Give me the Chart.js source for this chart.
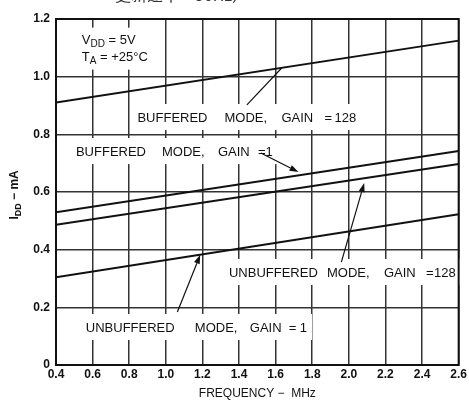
<!DOCTYPE html>
<html>
<head>
<meta charset="utf-8">
<script src="https://cdn.jsdelivr.net/npm/chart.js@4.4.1/dist/chart.umd.min.js"></script>
<style>
html,body{margin:0;padding:0;background:#fff;}
#wrap{width:469px;height:402px;position:relative;}
</style>
</head>
<body>
<div id="wrap"><canvas id="c" width="469" height="402"></canvas></div>
<script>
// ---- data ----
const frequencyMHz = [0.4, 2.6];
const bufferedGain128 = [0.91, 1.125];
const bufferedGain1 = [0.53, 0.742];
const unbufferedGain128 = [0.486, 0.697];
const unbufferedGain1 = [0.304, 0.523];
const xTickLabels = ['0.4','0.6','0.8','1.0','1.2','1.4','1.6','1.8','2.0','2.2','2.4','2.6'];
const yTickLabels = ['0','0.2','0.4','0.6','0.8','1.0','1.2'];

// annotation labels: [x, y] data position of left/center, segments [text, px offset]
const curveLabels = [
  {x:0.845, y:0.860, segs:[['BUFFERED',0],['MODE,',87],['GAIN',144],['=',187],['128',197]]},
  {x:0.509, y:0.742, segs:[['BUFFERED',0],['MODE,',86],['GAIN',142],['=1',182]]},
  {x:1.345, y:0.3226, segs:[['UNBUFFERED',0],['MODE,',98],['GAIN',155],['=',197],['128',205]]},
  {x:0.563, y:0.132, segs:[['UNBUFFERED',0],['MODE,',109],['GAIN',164],['=',203],['1',214]]}
];
const leaders = [
  {from:[1.443,0.902], to:[1.633,1.030], arrow:false},
  {from:[1.519,0.735], to:[1.725,0.669], arrow:true},
  {from:[1.959,0.357], to:[2.084,0.631], arrow:true},
  {from:[1.063,0.184], to:[1.188,0.382], arrow:true}
];

function pts(ys){ return frequencyMHz.map((f,i)=>({x:f,y:ys[i]})); }

const FONT = '"Liberation Sans", Arial, sans-serif';

function subText(ctx, x, y, main, sub, rest, size, subSize, weight){
  ctx.font = weight + ' ' + size + 'px ' + FONT;
  ctx.fillText(main, x, y);
  let w = ctx.measureText(main).width;
  ctx.font = weight + ' ' + subSize + 'px ' + FONT;
  ctx.fillText(sub, x + w, y + size*0.3);
  let w2 = ctx.measureText(sub).width;
  ctx.font = weight + ' ' + size + 'px ' + FONT;
  ctx.fillText(rest, x + w + w2, y);
  return w + w2 + ctx.measureText(rest).width;
}

const decor = {
  id:'decor',
  beforeDatasetsDraw(chart){
    const {ctx, chartArea:a, scales:{x,y}} = chart;
    ctx.save();
    ctx.font = '13px ' + FONT;
    ctx.textBaseline = 'middle';
    ctx.fillStyle = '#111';
    curveLabels.forEach(l=>{
      const px = x.getPixelForValue(l.x), py = y.getPixelForValue(l.y);
      const last = l.segs[l.segs.length-1];
      const w = last[1] + ctx.measureText(last[0]).width;
      ctx.fillStyle = '#fff';
      ctx.fillRect(px-5, py-13, w+10, 26);
      ctx.fillStyle = '#111';
      l.segs.forEach(s=>ctx.fillText(s[0], px+s[1], py+1));
    });
    // VDD / TA box
    const bx = x.getPixelForValue(0.48), by = y.getPixelForValue(1.17);
    ctx.fillStyle = '#fff';
    ctx.fillRect(bx, by, 76, 42);
    ctx.fillStyle = '#111';
    const tx = x.getPixelForValue(0.541);
    subText(ctx, tx, y.getPixelForValue(1.127), 'V', 'DD', ' = 5V', 13, 10, '');
    subText(ctx, tx, y.getPixelForValue(1.066), 'T', 'A', ' = +25°C', 13, 10, '');
    // y-axis title (rotated)
    ctx.save();
    ctx.translate(15, y.getPixelForValue(0.59));
    ctx.rotate(-Math.PI/2);
    ctx.font = 'bold 12px ' + FONT;
    const m1 = ctx.measureText('I').width;
    ctx.font = 'bold 9px ' + FONT;
    const m2 = ctx.measureText('DD').width;
    ctx.font = 'bold 12px ' + FONT;
    const m3 = ctx.measureText(' − mA').width;
    subText(ctx, -(m1+m2+m3)/2, 0, 'I', 'DD', ' − mA', 12, 9, 'bold');
    ctx.restore();
    ctx.restore();
  },
  afterDatasetsDraw(chart){
    const {ctx, chartArea:a, scales:{x,y}} = chart;
    ctx.save();
    ctx.strokeStyle = '#111';
    ctx.fillStyle = '#111';
    ctx.lineWidth = 1.2;
    leaders.forEach(l=>{
      const x1 = x.getPixelForValue(l.from[0]), y1 = y.getPixelForValue(l.from[1]);
      const x2 = x.getPixelForValue(l.to[0]), y2 = y.getPixelForValue(l.to[1]);
      const ang = Math.atan2(y2-y1, x2-x1);
      const hl = 9, hw = 3;
      const ex = l.arrow ? x2 - Math.cos(ang)*hl : x2, ey = l.arrow ? y2 - Math.sin(ang)*hl : y2;
      ctx.beginPath(); ctx.moveTo(x1,y1); ctx.lineTo(ex,ey); ctx.stroke();
      if(l.arrow){
        ctx.beginPath();
        ctx.moveTo(x2,y2);
        ctx.lineTo(ex - Math.sin(ang)*hw, ey + Math.cos(ang)*hw);
        ctx.lineTo(ex + Math.sin(ang)*hw, ey - Math.cos(ang)*hw);
        ctx.closePath(); ctx.fill();
      }
    });
    // frame
    ctx.lineWidth = 2;
    ctx.strokeStyle = '#111';
    ctx.strokeRect(a.left, a.top, a.right-a.left, a.bottom-a.top);
    // clipped caption text at top
    ctx.font = '16px "Noto Sans CJK SC"';
    ctx.fillStyle = '#333';
    ctx.textBaseline = 'middle';
    ctx.fillText('更新速率 ~ 50Hz）', 115, -5);
    ctx.restore();
  }
};

new Chart(document.getElementById('c'), {
  type:'line',
  data:{
    datasets:[
      {label:'Buffered, Gain = 128', data:pts(bufferedGain128)},
      {label:'Buffered, Gain = 1', data:pts(bufferedGain1)},
      {label:'Unbuffered, Gain = 128', data:pts(unbufferedGain128)},
      {label:'Unbuffered, Gain = 1', data:pts(unbufferedGain1)}
    ].map(d=>Object.assign(d,{borderColor:'#111', borderWidth:2, pointRadius:0, fill:false, tension:0}))
  },
  options:{
    responsive:false, animation:false,
    layout:{padding:{top:19, right:8, left:0, bottom:0}},
    plugins:{legend:{display:false}, tooltip:{enabled:false}},
    scales:{
      x:{
        type:'linear', min:0.4, max:2.6,
        afterBuildTicks(s){ s.ticks = xTickLabels.map(v=>({value:parseFloat(v)})); },
        afterFit(s){ s.height = 37; },
        grid:{color:'#333', lineWidth:1.5, drawTicks:false},
        border:{display:false},
        ticks:{autoSkip:false, maxRotation:0, padding:2, color:'#111',
          font:{family:FONT, size:12, weight:'bold'},
          callback:(v,i)=>xTickLabels[i]},
        title:{display:true, text:'FREQUENCY −  MHz', color:'#111',
          font:{family:FONT, size:12}, padding:{top:0, bottom:1}}
      },
      y:{
        min:0, max:1.2,
        afterBuildTicks(s){ s.ticks = yTickLabels.map(v=>({value:parseFloat(v)})); },
        afterFit(s){ s.width = 56; },
        grid:{color:'#333', lineWidth:1.5, drawTicks:false},
        border:{display:false},
        ticks:{padding:6, color:'#111',
          font:{family:FONT, size:12, weight:'bold'},
          callback:(v,i)=>yTickLabels[i]}
      }
    }
  },
  plugins:[decor]
});
</script>
</body>
</html>
